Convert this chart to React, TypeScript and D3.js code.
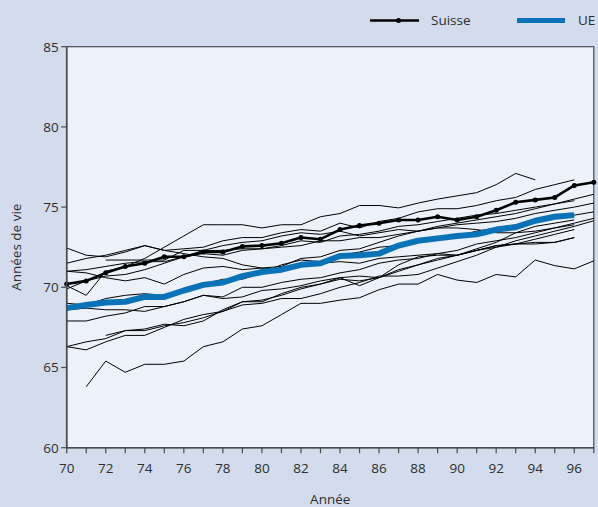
import React from "react";
import * as d3 from "d3";

// Years on the x axis (two-digit, 1970–1997)
const YEARS = [70, 71, 72, 73, 74, 75, 76, 77, 78, 79, 80, 81, 82, 83, 84, 85, 86, 87, 88, 89, 90, 91, 92, 93, 94, 95, 96, 97];
const X_TICK_LABELS = [70, 72, 74, 76, 78, 80, 82, 84, 86, 88, 90, 92, 94, 96];
const Y_TICKS = [60, 65, 70, 75, 80, 85];

// Life expectancy, Switzerland
const suisse = [70.2, 70.4, 70.9, 71.3, 71.5, 71.9, 71.9, 72.2, 72.2, 72.55, 72.6, 72.75, 73.1, 73.0, 73.6, 73.85, 74.0, 74.2, 74.2, 74.4, 74.2, 74.4, 74.8, 75.3, 75.45, 75.6, 76.35, 76.55];

// Life expectancy, EU average
const ue = [68.7, 68.9, 69.05, 69.1, 69.4, 69.4, 69.8, 70.15, 70.3, 70.7, 70.95, 71.1, 71.4, 71.5, 71.95, 72.0, 72.1, 72.6, 72.9, 73.05, 73.2, 73.3, 73.6, 73.75, 74.15, 74.4, 74.5, null];

// Individual EU member states (null where no value)
const paysA = [70.1, 69.5, 71.0, 71.3, 71.8, 72.5, 73.2, 73.9, 73.9, 73.9, 73.7, 73.9, 73.9, 74.4, 74.6, 75.1, 75.1, 74.95, 75.25, 75.5, 75.7, 75.9, 76.4, 77.1, 76.7, null, null, null];
const paysB = [72.45, 72.0, 71.9, 72.2, 72.6, 72.3, 72.4, 72.5, 72.9, 73.1, 73.1, 73.4, 73.6, 73.5, 74.0, 73.7, 74.1, 74.3, 74.7, 74.9, 74.9, 75.1, 75.4, 75.6, 76.1, 76.4, 76.7, null];
const paysC = [71.5, 71.8, 72.0, 72.3, 72.6, 72.3, 72.1, 71.9, 71.8, 71.4, 71.2, 71.3, 71.8, 71.9, 72.3, 72.4, 72.8, 73.2, 73.5, 73.8, 74.0, 74.2, 74.4, 74.6, 74.9, 75.2, 75.5, 75.8];
const paysD = [71.0, 71.1, 71.3, 71.5, 71.6, 71.6, 71.9, 72.3, 72.6, 72.8, 72.9, 73.2, 73.4, 73.3, 73.5, 73.2, 73.4, 73.6, 73.5, 73.7, 73.9, 74.0, 74.1, 74.3, 74.6, 74.8, 75.0, 75.25];
const paysE = [71.0, 70.9, 70.6, 70.4, 70.6, 70.2, 70.8, 71.2, 71.3, 71.1, 71.2, 71.1, 71.4, 71.5, 71.6, 71.5, 71.8, 71.9, 72.0, 72.1, 72.0, 72.3, 72.6, 72.7, 72.7, 72.8, 73.1, null];
const paysF = [69.9, 70.4, 70.7, 70.8, 71.1, 71.5, 71.9, 72.1, 72.0, 72.3, 72.4, 72.6, 72.9, 72.8, 73.2, 73.3, 73.5, 73.8, 73.9, 74.1, 74.3, 74.5, 74.6, 74.8, 75.0, 75.2, 75.4, null];
const paysG = [69.0, 68.9, 69.3, 69.5, 69.6, 69.5, 69.9, 70.2, 70.5, 70.5, 70.9, 71.4, 71.7, 71.6, 72.0, 72.2, 72.5, 72.6, 72.8, 73.0, 73.2, 73.5, 73.7, 73.9, 74.1, 74.3, 74.5, 74.7];
const paysH = [68.6, 68.7, 68.6, 68.6, 68.5, 68.8, 69.1, 69.5, 69.3, 69.4, 69.8, 69.9, 70.1, 70.4, 70.6, 70.7, 70.6, 71.1, 71.4, 71.7, 72.0, 72.3, 72.6, 72.7, 73.0, 73.3, 73.6, null];
const paysI = [67.9, 67.9, 68.2, 68.4, 68.8, 68.8, 69.1, 69.5, 69.4, 70.0, 70.0, 70.3, 70.5, 70.6, 70.9, 71.1, 71.5, 71.7, 71.8, 72.1, 72.3, 72.7, 72.9, 73.1, 73.4, 73.7, 74.0, 74.3];
const paysJ = [66.3, 66.1, 66.6, 67.0, 67.0, 67.5, 68.0, 68.3, 68.5, 69.1, 69.2, 69.5, 69.9, 70.2, 70.5, 70.4, 70.6, 71.0, 71.4, 71.8, 72.0, 72.3, 72.5, 72.9, 73.2, 73.5, 73.8, 74.15];
const paysK = [66.3, 66.6, 66.8, 67.3, 67.4, 67.7, 67.6, 67.9, 68.6, 69.1, 69.1, 69.6, 70.0, 70.2, 70.6, 70.1, 70.6, 71.4, 71.9, 72.0, 72.0, 72.4, 72.8, 73.4, 73.8, 74.0, 74.2, null];
const paysL = [null, null, 67.0, 67.3, 67.3, 67.6, 67.8, 68.1, 68.5, 68.9, 69.0, 69.3, 69.3, 69.6, 70.0, 70.3, 70.7, 70.7, 70.8, 71.2, 71.6, 72.0, 72.5, 72.7, 72.8, 72.8, 73.1, null];
const paysM = [null, null, 71.7, 71.7, 71.7, 71.7, 72.3, 72.3, 72.3, 72.4, 72.4, 72.5, 72.6, 72.9, 72.9, 73.1, 73.1, 73.3, 73.5, 73.7, 73.7, 73.6, 73.4, 73.4, 73.5, 73.7, 73.9, null];
const paysN = [null, 63.8, 65.4, 64.7, 65.2, 65.2, 65.4, 66.3, 66.6, 67.4, 67.6, 68.3, 69.0, 69.0, 69.2, 69.35, 69.85, 70.2, 70.2, 70.8, 70.45, 70.3, 70.8, 70.65, 71.7, 71.35, 71.15, 71.65];

const countries = [paysA, paysB, paysC, paysD, paysE, paysF, paysG, paysH, paysI, paysJ, paysK, paysL, paysM, paysN];

const W = 598;
const H = 507;
const M = { left: 66.7, right: 593.8, top: 46.7, bottom: 447.7 };

const BG = "#d3dcec";
const PLOT_BG = "#edf1f9";
const AXIS = "#4a4a4a";
const TEXT = "#2e2e2e";
const BLUE = "#0a73b8";
const FONT = "'Open Sans', 'Noto Sans', sans-serif";

export default function App() {
  const x = d3.scaleLinear().domain([70, 97]).range([M.left, M.right]);
  const y = d3.scaleLinear().domain([60, 85]).range([M.bottom, M.top]);

  const line = d3
    .line<number | null>()
    .defined((d) => d !== null)
    .x((_, i) => x(YEARS[i]))
    .y((d) => y(d as number));

  return (
    <svg
      width={W}
      height={H}
      style={{ position: "fixed", left: 0, top: 0, display: "block" }}
      fontFamily={FONT}
    >
      <rect x={0} y={0} width={W} height={H} fill={BG} />

      {/* plot area */}
      <rect
        x={M.left}
        y={M.top}
        width={M.right - M.left}
        height={M.bottom - M.top}
        fill={PLOT_BG}
        stroke={AXIS}
        strokeWidth={1.2}
      />

      {/* country lines */}
      {countries.map((s, i) => (
        <path key={i} d={line(s) || ""} fill="none" stroke="#000" strokeWidth={1} strokeLinejoin="miter" />
      ))}

      {/* EU average */}
      <path d={line(ue) || ""} fill="none" stroke={BLUE} strokeWidth={6} strokeLinejoin="round" />

      {/* Switzerland */}
      <path d={line(suisse) || ""} fill="none" stroke="#000" strokeWidth={2.6} strokeLinejoin="round" />
      {suisse.map((v, i) => (
        <circle key={i} cx={x(YEARS[i])} cy={y(v)} r={2.5} fill="#000" />
      ))}

      {/* y axis */}
      <line x1={M.left} x2={M.left} y1={M.top} y2={M.bottom} stroke={AXIS} strokeWidth={1.6} />
      {Y_TICKS.map((t) => (
        <g key={t}>
          <line x1={M.left - 5.5} x2={M.left} y1={y(t)} y2={y(t)} stroke={AXIS} strokeWidth={1.2} />
          <text x={M.left - 8} y={y(t)} dy="0.36em" textAnchor="end" fontSize={13.5} fill={TEXT}>
            {t}
          </text>
        </g>
      ))}

      {/* x axis */}
      <line x1={M.left} x2={M.right} y1={M.bottom} y2={M.bottom} stroke={AXIS} strokeWidth={1.6} />
      {YEARS.map((t) => (
        <line key={t} x1={x(t)} x2={x(t)} y1={M.bottom} y2={M.bottom + 5.5} stroke={AXIS} strokeWidth={1.2} />
      ))}
      {X_TICK_LABELS.map((t) => (
        <text key={t} x={x(t)} y={473} textAnchor="middle" fontSize={13.5} fill={TEXT}>
          {t}
        </text>
      ))}

      {/* axis titles */}
      <text x={(M.left + M.right) / 2} y={504} textAnchor="middle" fontSize={13.5} fill={TEXT}>
        Année
      </text>
      <text
        transform={`translate(21, ${(M.top + M.bottom) / 2}) rotate(-90)`}
        textAnchor="middle"
        fontSize={13.5}
        fill={TEXT}
      >
        Années de vie
      </text>

      {/* legend */}
      <line x1={370} x2={419} y1={20.5} y2={20.5} stroke="#000" strokeWidth={2.6} />
      <circle cx={398.5} cy={20.5} r={2.5} fill="#000" />
      <text x={431} y={25} fontSize={13.5} fill={TEXT}>
        Suisse
      </text>
      <line x1={517} x2={565} y1={20.5} y2={20.5} stroke={BLUE} strokeWidth={5} />
      <text x={578} y={25} fontSize={13.5} fill={TEXT}>
        UE
      </text>
    </svg>
  );
}
